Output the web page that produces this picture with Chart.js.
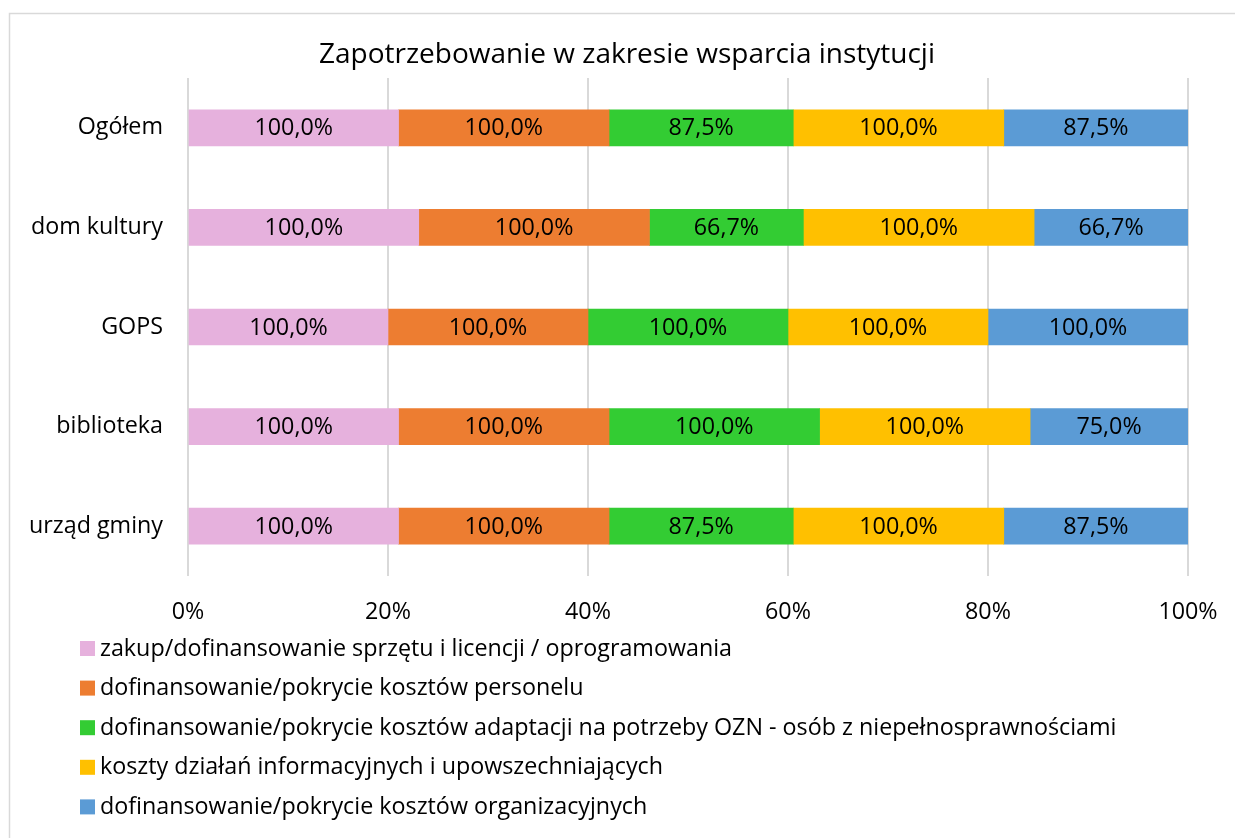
<!DOCTYPE html>
<html>
<head>
<meta charset="utf-8">
<script src="https://cdn.jsdelivr.net/npm/chart.js@4.4.0/dist/chart.umd.min.js"></script>
<style>
  html, body { margin: 0; padding: 0; background: #fff; }
  #wrap { width: 1235px; height: 838px; position: relative; }
</style>
</head>
<body>
<div id="wrap"><canvas id="barChart" width="1235" height="838"></canvas></div>
<script>
const chartTitle = 'Zapotrzebowanie w zakresie wsparcia instytucji';
const categories = ['Ogółem', 'dom kultury', 'GOPS', 'biblioteka', 'urząd gminy'];
const seriesNames = [
  'zakup/dofinansowanie sprzętu i licencji / oprogramowania',
  'dofinansowanie/pokrycie kosztów personelu',
  'dofinansowanie/pokrycie kosztów adaptacji na potrzeby OZN - osób z niepełnosprawnościami',
  'koszty działań informacyjnych i upowszechniających',
  'dofinansowanie/pokrycie kosztów organizacyjnych'
];
const sprzet = [100.0, 100.0, 100.0, 100.0, 100.0];
const personel = [100.0, 100.0, 100.0, 100.0, 100.0];
const adaptacja = [87.5, 66.7, 100.0, 100.0, 87.5];
const informacja = [100.0, 100.0, 100.0, 100.0, 100.0];
const organizacja = [87.5, 66.7, 100.0, 75.0, 87.5];
const xTicks = [0, 20, 40, 60, 80, 100];
const colors = ['#E6B1DD', '#ED7D31', '#33CC33', '#FFC000', '#5B9BD5'];

const FONT = '"Open Sans"';
const allSeries = [sprzet, personel, adaptacja, informacja, organizacja];

// 100% stacked: each segment is its share of the row total
const totals = categories.map((c, i) => allSeries.reduce((s, arr) => s + arr[i], 0));
const datasets = allSeries.map((arr, k) => ({
  label: seriesNames[k],
  data: arr.map((v, i) => v / totals[i] * 100),
  raw: arr,
  backgroundColor: colors[k],
  borderWidth: 0,
  barThickness: 36
}));

const fmt = v => v.toFixed(1).replace('.', ',') + '%';

const frameAndLabels = {
  id: 'frameAndLabels',
  beforeDraw(c) {
    const ctx = c.ctx;
    ctx.save();
    ctx.fillStyle = '#fff';
    ctx.fillRect(0, 0, c.width, c.height);
    ctx.strokeStyle = '#D9D9D9';
    ctx.lineWidth = 1.5;
    ctx.strokeRect(9.5, 13.5, 1250, 850);
    ctx.restore();
  },
  afterDatasetsDraw(c) {
    const ctx = c.ctx;
    ctx.save();
    // title
    ctx.font = '28px ' + FONT;
    ctx.fillStyle = '#000';
    ctx.textAlign = 'center';
    ctx.textBaseline = 'middle';
    ctx.fillText(chartTitle, 627, 55);

    ctx.font = '23.3px ' + FONT;
    c.data.datasets.forEach((ds, k) => {
      c.getDatasetMeta(k).data.forEach((bar, i) => {
        const cx = (bar.x + bar.base) / 2;
        ctx.fillText(fmt(ds.raw[i]), cx, bar.y + 1);
      });
    });
    // legend, one entry per row
    ctx.textAlign = 'left';
    c.data.datasets.forEach((ds, k) => {
      const y = 648 + k * 39.6;
      ctx.fillStyle = ds.backgroundColor;
      ctx.fillRect(80, y - 7, 15, 15);
      ctx.fillStyle = '#000';
      ctx.fillText(ds.label, 100, y + 1);
    });
    ctx.restore();
  }
};

new Chart(document.getElementById('barChart'), {
  type: 'bar',
  data: { labels: categories, datasets: datasets },
  options: {
    indexAxis: 'y',
    responsive: false,
    animation: false,
    layout: { padding: { left: 0, right: 47, top: 78, bottom: 202 } },
    plugins: {
      legend: { display: false },
      tooltip: { enabled: false },
      title: { display: false }
    },
    scales: {
      x: {
        stacked: true,
        min: 0,
        max: 100,
        afterFit(scale) {
          scale.height = 60;
          scale.paddingLeft = 0;
          scale.paddingRight = 0;
        },
        afterBuildTicks(scale) { scale.ticks = xTicks.map(v => ({ value: v })); },
        ticks: {
          color: '#000',
          padding: 22,
          font: { family: FONT, size: 23.3 },
          callback: v => v + '%'
        },
        grid: { color: '#D9D9D9', lineWidth: 2, drawTicks: false },
        border: { display: false }
      },
      y: {
        stacked: true,
        afterFit(scale) { scale.width = 188; },
        ticks: {
          color: '#000',
          padding: 25,
          font: { family: FONT, size: 23.3 }
        },
        grid: { display: false, drawTicks: false },
        border: { display: false }
      }
    }
  },
  plugins: [frameAndLabels]
});
</script>
</body>
</html>
